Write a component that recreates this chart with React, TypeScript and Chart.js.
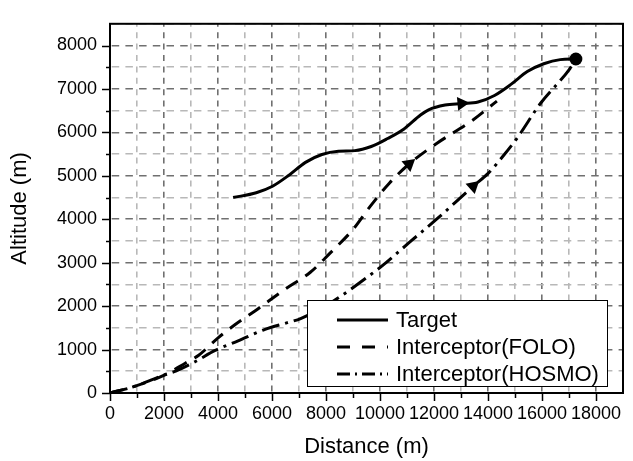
import { useEffect, useRef } from "react";
import { Chart, registerables } from "chart.js";

Chart.register(...registerables);

// Target trajectory (distance m, altitude m)
const TARGET_X = [4560, 5415, 6020, 6630, 7240, 7850, 8460, 9070, 9675, 10285, 10890, 11500, 11800, 12410, 13020, 13630, 14240, 14850, 15455, 16065, 16675, 17255];
const TARGET_Y = [4500, 4610, 4760, 5015, 5310, 5490, 5565, 5580, 5675, 5860, 6080, 6400, 6520, 6630, 6665, 6700, 6850, 7105, 7400, 7580, 7675, 7690];

// Interceptor guided by FOLO
const FOLO_X = [0, 850, 2070, 2800, 3285, 4015, 4625, 5475, 6450, 7420, 8150, 9005, 9615, 10345, 11075, 12110, 13385, 14330];
const FOLO_Y = [0, 140, 430, 690, 870, 1275, 1570, 1935, 2375, 2780, 3220, 3770, 4280, 4830, 5270, 5750, 6260, 6720];

// Interceptor guided by HOSMO
const HOSMO_X = [0, 850, 2070, 2435, 3165, 3895, 4745, 5720, 6570, 7060, 8275, 9920, 10225, 11075, 12140, 13450, 13995, 14605, 15090, 15940, 17035, 17255];
const HOSMO_Y = [0, 140, 430, 505, 725, 980, 1200, 1460, 1620, 1715, 2120, 2850, 3000, 3460, 4025, 4760, 5050, 5490, 5880, 6665, 7470, 7690];

// Where the direction arrows sit on each path (index into the arrays above)
const TARGET_ARROW = 14;
const FOLO_ARROW = 14;
const HOSMO_ARROW = 15;

const SERIES_NAMES = ["Target", "Interceptor(FOLO)", "Interceptor(HOSMO)"];

const X_MIN = 0;
const X_MAX = 19000;
const X_STEP = 1000;
const X_LABEL_STEP = 2000;
const Y_MIN = 0;
const Y_MAX = 8500;
const Y_STEP = 500;
const Y_LABEL_STEP = 1000;

const FONT = "'Liberation Sans', Arial, Helvetica, sans-serif";
const GRID_DARK = "#707070";
const GRID_LIGHT = "#b8b8b8";
const FOLO_DASH = [14, 9];
const HOSMO_DASH = [18, 6, 3, 6];

const toPoints = (xs: number[], ys: number[]) => xs.map((x, i) => ({ x, y: ys[i] }));

const arrowRotation = (xs: number[], ys: number[], i: number) => (ctx: any) => {
  const sx = ctx.chart.scales.x;
  const sy = ctx.chart.scales.y;
  if (!sx || !sy) return 0;
  const dx = sx.getPixelForValue(xs[i + 1]) - sx.getPixelForValue(xs[i - 1]);
  const dy = sy.getPixelForValue(ys[i + 1]) - sy.getPixelForValue(ys[i - 1]);
  return (Math.atan2(dx, -dy) * 180) / Math.PI;
};

const framePlugin = {
  id: "frameAndKey",
  afterDatasetsDraw(chart: any) {
    const { ctx, chartArea: ca, scales } = chart;
    const sx = scales.x;
    const sy = scales.y;
    ctx.save();

    // key box
    const bx = ca.left + 197;
    const by = ca.bottom - 93;
    const bw = ca.right - 16 - bx;
    const bh = 86;
    ctx.fillStyle = "#ffffff";
    ctx.fillRect(bx, by, bw, bh);
    ctx.strokeStyle = "#000000";
    ctx.lineWidth = 1;
    ctx.strokeRect(bx + 0.5, by + 0.5, bw, bh);

    const rows = [by + 20, by + 47, by + 74];
    const dashes = [[], [13, 12], [13, 5, 2, 5]];
    ctx.font = `22px ${FONT}`;
    ctx.textBaseline = "middle";
    ctx.textAlign = "left";
    rows.forEach((ry, i) => {
      ctx.beginPath();
      ctx.setLineDash(dashes[i]);
      ctx.lineWidth = 3;
      ctx.moveTo(bx + 30, ry);
      ctx.lineTo(bx + 81, ry);
      ctx.stroke();
      ctx.setLineDash([]);
      ctx.fillStyle = "#000000";
      ctx.fillText(SERIES_NAMES[i], bx + 89, ry + 1);
    });

    // plot frame
    ctx.lineWidth = 2;
    ctx.strokeStyle = "#000000";
    ctx.strokeRect(ca.left, ca.top, ca.right - ca.left, ca.bottom - ca.top);

    // outward tick marks
    ctx.lineWidth = 1.5;
    ctx.beginPath();
    for (let v = Y_MIN; v < Y_MAX; v += Y_STEP) {
      const py = Math.round(sy.getPixelForValue(v)) + 0.5;
      const len = v % Y_LABEL_STEP === 0 ? 8 : 4;
      ctx.moveTo(ca.left, py);
      ctx.lineTo(ca.left - len, py);
    }
    for (let v = X_MIN; v < X_MAX; v += X_STEP) {
      const px = Math.round(sx.getPixelForValue(v)) + 0.5;
      const len = v % X_LABEL_STEP === 0 ? 8 : 5;
      ctx.moveTo(px, ca.bottom);
      ctx.lineTo(px, ca.bottom + len);
    }
    ctx.stroke();
    ctx.restore();
  },
};

export default function App() {
  const canvasRef = useRef<HTMLCanvasElement | null>(null);

  useEffect(() => {
    if (!canvasRef.current) return;
    const chart = new Chart(canvasRef.current, {
      type: "line",
      data: {
        datasets: [
          {
            label: SERIES_NAMES[0],
            data: toPoints(TARGET_X, TARGET_Y),
            borderColor: "#000",
            backgroundColor: "#000",
            borderWidth: 3,
            cubicInterpolationMode: "monotone",
            pointBorderWidth: 0,
            pointBackgroundColor: "#000",
            pointStyle: (c: any) => (c.dataIndex === TARGET_X.length - 1 ? "circle" : "triangle"),
            pointRadius: (c: any) =>
              c.dataIndex === TARGET_X.length - 1 ? 6.5 : c.dataIndex === TARGET_ARROW ? 8 : 0,
            pointRotation: arrowRotation(TARGET_X, TARGET_Y, TARGET_ARROW),
          },
          {
            label: SERIES_NAMES[1],
            data: toPoints(FOLO_X, FOLO_Y),
            borderColor: "#000",
            backgroundColor: "#000",
            borderWidth: 3,
            borderDash: FOLO_DASH,
            cubicInterpolationMode: "monotone",
            pointBorderWidth: 0,
            pointBackgroundColor: "#000",
            pointStyle: "triangle",
            pointRadius: (c: any) => (c.dataIndex === FOLO_ARROW ? 8 : 0),
            pointRotation: arrowRotation(FOLO_X, FOLO_Y, FOLO_ARROW),
          },
          {
            label: SERIES_NAMES[2],
            data: toPoints(HOSMO_X, HOSMO_Y),
            borderColor: "#000",
            backgroundColor: "#000",
            borderWidth: 3,
            borderDash: HOSMO_DASH,
            cubicInterpolationMode: "monotone",
            pointBorderWidth: 0,
            pointBackgroundColor: "#000",
            pointStyle: "triangle",
            pointRadius: (c: any) => (c.dataIndex === HOSMO_ARROW ? 8 : 0),
            pointRotation: arrowRotation(HOSMO_X, HOSMO_Y, HOSMO_ARROW),
          },
        ],
      },
      options: {
        animation: false,
        responsive: true,
        maintainAspectRatio: false,
        devicePixelRatio: 1,
        layout: { padding: { top: 7, right: 2, left: 0, bottom: 0 } },
        plugins: {
          legend: { display: false },
          tooltip: { enabled: false },
        },
        scales: {
          x: {
            type: "linear",
            min: X_MIN,
            max: X_MAX,
            afterFit: (s: any) => {
              s.height = 68;
            },
            ticks: {
              stepSize: X_STEP,
              autoSkip: false,
              maxRotation: 0,
              padding: 10,
              color: "#000",
              font: { family: FONT, size: 18 },
              callback: (v: any) => (Number(v) % X_LABEL_STEP === 0 ? String(v) : ""),
            },
            grid: {
              drawTicks: false,
              lineWidth: 1.6,
              color: (c: any) => (c.tick && c.tick.value % X_LABEL_STEP === 0 ? GRID_DARK : GRID_LIGHT),
            },
            border: { display: false, dash: [6, 5.4], dashOffset: 3 },
            title: {
              display: true,
              text: "Distance (m)",
              color: "#000",
              font: { family: FONT, size: 22 },
              padding: { top: 0, bottom: 1 },
            },
          },
          y: {
            type: "linear",
            min: Y_MIN,
            max: Y_MAX,
            afterFit: (s: any) => {
              s.width = 110;
            },
            ticks: {
              stepSize: Y_STEP,
              autoSkip: false,
              padding: 13,
              color: "#000",
              font: { family: FONT, size: 18 },
              callback: (v: any) => (Number(v) % Y_LABEL_STEP === 0 && Number(v) < Y_MAX ? String(v) : ""),
            },
            grid: {
              drawTicks: false,
              lineWidth: 1.6,
              color: (c: any) => (c.tick && c.tick.value % Y_LABEL_STEP === 0 ? GRID_DARK : GRID_LIGHT),
            },
            border: { display: false, dash: [7.5, 6.2], dashOffset: 12 },
            title: {
              display: true,
              text: "Altitude (m)",
              color: "#000",
              font: { family: FONT, size: 22 },
              padding: { top: 7, bottom: 0 },
            },
          },
        },
      },
      plugins: [framePlugin],
    } as any);
    return () => chart.destroy();
  }, []);

  return (
    <div style={{ position: "fixed", left: 0, top: 0, width: 633, height: 461, background: "#fff" }}>
      <canvas ref={canvasRef} />
    </div>
  );
}
